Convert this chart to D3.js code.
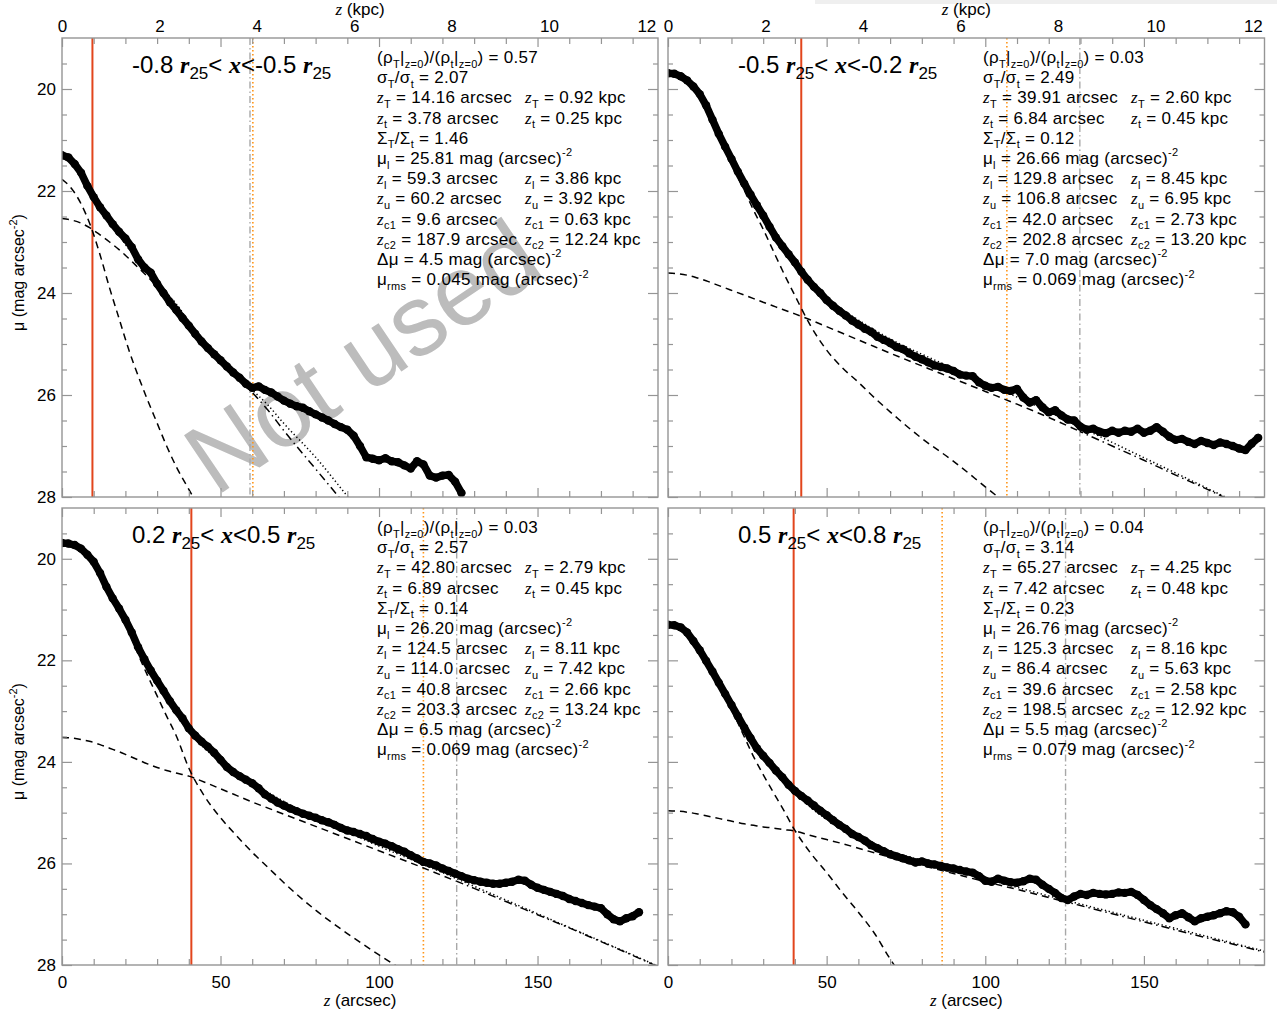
<!DOCTYPE html>
<html>
<head>
<meta charset="utf-8">
<script src="https://cdn.jsdelivr.net/npm/d3@7"></script>
<style>
  body { margin: 0; background: #fff; }
  svg text { font-family: "Liberation Sans", Arial, Helvetica, sans-serif; white-space: pre; }
</style>
</head>
<body>
<svg id="chart" width="1277" height="1013"></svg>
<script>
// ---------------------------------------------------------------------------
// Vertical surface-brightness profiles of four radial bins, with two-disc fits
// ---------------------------------------------------------------------------

const kpcPerArcsec = 0.0651;      // z (kpc) = z (arcsec) * kpcPerArcsec
const zMax = 188;                  // arcsec shown on the horizontal axis
const muTop = 19, muBottom = 28;   // mag arcsec^-2 (inverted axis)

// radial bin limits in units of r25
const binLow  = ["-0.8", "-0.5", "0.2", "0.5"];
const binHigh = ["-0.5", "-0.2", "0.5", "0.8"];

// fit parameters printed in each panel
const rhoRatio   = ["0.57", "0.03", "0.03", "0.04"];
const sigmaRatio = ["2.07", "2.49", "2.57", "3.14"];
const zThickArc  = ["14.16", "39.91", "42.80", "65.27"];
const zThickKpc  = ["0.92", "2.60", "2.79", "4.25"];
const zThinArc   = ["3.78", "6.84", "6.89", "7.42"];
const zThinKpc   = ["0.25", "0.45", "0.45", "0.48"];
const SigmaRatio = ["1.46", "0.12", "0.14", "0.23"];
const muL        = ["25.81", "26.66", "26.20", "26.76"];
const zL         = [59.3, 129.8, 124.5, 125.3];
const zLKpc      = ["3.86", "8.45", "8.11", "8.16"];
const zU         = [60.2, 106.8, 114.0, 86.4];
const zUKpc      = ["3.92", "6.95", "7.42", "5.63"];
const zC1        = [9.6, 42.0, 40.8, 39.6];
const zC1Kpc     = ["0.63", "2.73", "2.66", "2.58"];
const zC2        = [187.9, 202.8, 203.3, 198.5];
const zC2Kpc     = ["12.24", "13.20", "13.24", "12.92"];
const deltaMu    = ["4.5", "7.0", "6.5", "5.5"];
const muRms      = ["0.045", "0.069", "0.069", "0.079"];

// axis ticks
const zTicksMajor  = [0, 50, 100, 150];
const zTicksMinor  = [10, 20, 30, 40, 60, 70, 80, 90, 110, 120, 130, 140, 160, 170, 180];
const kpcLabels    = [0, 2, 4, 6, 8, 10, 12];
const muTicksMajor = [20, 22, 24, 26, 28];
const muTicksMinor = [19.5, 20.5, 21, 21.5, 22.5, 23, 23.5, 24.5, 25, 25.5, 26.5, 27, 27.5];

// observed profiles, one value every dataStep arcsec starting at z = 0
const dataStep = 2;
const muObsTL = [21.30,21.34,21.47,21.64,21.90,22.12,22.32,22.48,22.65,22.80,22.93,23.10,23.34,23.50,23.60,23.82,
  24.00,24.18,24.33,24.49,24.64,24.80,24.95,25.08,25.20,25.32,25.44,25.56,25.66,25.78,25.86,25.83,25.90,25.95,
  26.03,26.11,26.17,26.22,26.25,26.32,26.38,26.44,26.50,26.57,26.63,26.68,26.80,27.00,27.22,27.25,27.28,27.24,
  27.30,27.32,27.38,27.44,27.30,27.36,27.58,27.62,27.58,27.57,27.70,27.92];
const muObsTR = [19.69,19.70,19.75,19.83,19.95,20.10,20.32,20.60,20.88,21.13,21.37,21.62,21.85,22.07,22.28,22.48,
  22.70,22.91,23.08,23.24,23.40,23.58,23.74,23.88,24.00,24.14,24.25,24.35,24.44,24.54,24.62,24.70,24.76,24.86,
  24.92,24.98,25.06,25.10,25.18,25.25,25.30,25.36,25.42,25.45,25.48,25.53,25.60,25.62,25.63,25.75,25.82,25.86,
  25.84,25.90,25.92,25.88,26.05,26.15,26.10,26.24,26.34,26.30,26.40,26.48,26.50,26.62,26.68,26.66,26.72,26.75,
  26.70,26.74,26.70,26.72,26.66,26.74,26.70,26.63,26.72,26.82,26.88,26.86,26.92,26.96,26.90,26.94,26.98,26.93,
  26.96,27.00,27.05,27.08,26.95,26.84];
const muObsBL = [19.69,19.70,19.73,19.80,19.92,20.06,20.28,20.55,20.78,20.98,21.20,21.45,21.74,21.98,22.20,22.40,
  22.60,22.80,22.98,23.14,23.34,23.48,23.60,23.70,23.82,23.96,24.10,24.20,24.28,24.35,24.42,24.52,24.64,24.72,
  24.80,24.86,24.92,24.97,25.02,25.06,25.10,25.15,25.19,25.24,25.30,25.35,25.38,25.42,25.46,25.52,25.57,25.61,
  25.66,25.72,25.77,25.84,25.90,25.97,26.00,26.04,26.10,26.15,26.20,26.25,26.30,26.33,26.36,26.38,26.40,26.40,
  26.38,26.36,26.32,26.34,26.42,26.48,26.52,26.56,26.60,26.64,26.70,26.74,26.78,26.82,26.85,26.88,27.00,27.10,
  27.14,27.08,27.04,26.96];
const muObsBR = [21.30,21.31,21.35,21.45,21.62,21.80,22.01,22.22,22.44,22.66,22.88,23.10,23.32,23.53,23.73,23.88,
  24.02,24.17,24.30,24.45,24.57,24.67,24.76,24.86,24.96,25.05,25.15,25.24,25.32,25.42,25.48,25.55,25.64,25.70,
  25.76,25.82,25.86,25.90,25.94,25.98,25.96,26.00,26.02,26.05,26.08,26.10,26.13,26.16,26.18,26.25,26.34,26.36,
  26.30,26.34,26.37,26.38,26.35,26.30,26.32,26.42,26.50,26.58,26.68,26.72,26.65,26.60,26.62,26.58,26.60,26.61,
  26.60,26.57,26.58,26.56,26.62,26.72,26.82,26.90,26.98,27.08,27.02,26.98,27.06,27.14,27.08,27.05,27.02,26.98,
  26.94,26.96,27.05,27.20];

// model curves sampled at fitZ (arcsec); null where the curve has left the frame
const fitZ = [0,3,6,9,12,15,18,21,24,27,30,33,36,40,45,50,55,60,65,70,80,90,100,110,120,130,140,150,160,170,180,190];

const thinTL  = [21.77,21.95,22.25,22.68,23.25,23.90,24.50,25.10,25.62,26.10,26.55,27.00,27.40,27.85,28.40,
  null,null,null,null,null,null,null,null,null,null,null,null,null,null,null,null,null];
const thickTL = [22.54,22.57,22.63,22.73,22.86,23.00,23.15,23.32,23.50,23.68,23.87,24.06,24.26,24.62,24.98,25.32,
  25.64,25.95,26.30,26.70,27.45,28.20,null,null,null,null,null,null,null,null,null,null];
const totalTL = [21.34,21.46,21.67,21.95,22.29,22.61,22.87,23.13,23.35,23.57,23.79,24.00,24.21,24.56,24.93,25.28,
  25.60,25.90,26.20,26.56,27.22,27.98,28.70,null,null,null,null,null,null,null,null,null];

const thinTR  = [19.72,19.76,19.86,20.05,20.36,20.80,21.20,21.60,21.98,22.38,22.75,23.15,23.55,24.05,24.65,25.12,
  25.47,25.75,26.05,26.33,26.85,27.30,27.80,28.30,null,null,null,null,null,null,null,null];
const thickTR = [23.61,23.62,23.65,23.70,23.76,23.83,23.90,23.97,24.04,24.11,24.18,24.25,24.32,24.41,24.53,24.66,
  24.79,24.92,25.05,25.18,25.43,25.68,25.93,26.18,26.44,26.72,27.00,27.28,27.57,27.85,28.15,null];
const totalTR = [19.69,19.73,19.83,20.02,20.32,20.75,21.15,21.52,21.84,22.19,22.49,22.81,23.12,23.45,23.80,24.10,
  24.33,24.53,24.72,24.90,25.20,25.48,25.76,26.04,26.33,26.63,26.93,27.23,27.53,27.83,28.13,null];

const thinBL  = [19.72,19.75,19.83,20.03,20.32,20.72,21.06,21.42,21.88,22.30,22.70,23.10,23.48,24.12,24.68,25.10,
  25.45,25.78,26.08,26.38,26.92,27.38,27.80,28.20,null,null,null,null,null,null,null,null];
const thickBL = [23.52,23.53,23.56,23.60,23.66,23.73,23.80,23.88,23.96,24.04,24.11,24.17,24.22,24.28,24.40,24.53,
  24.66,24.79,24.91,25.03,25.27,25.51,25.75,25.99,26.24,26.49,26.75,27.01,27.27,27.54,27.81,28.09];
const totalBL = [19.69,19.72,19.80,19.99,20.28,20.66,20.98,21.32,21.73,22.10,22.44,22.76,23.05,23.42,23.73,24.00,
  24.22,24.42,24.60,24.78,25.10,25.38,25.66,25.92,26.18,26.45,26.72,26.99,27.26,27.53,27.80,28.08];

const thinBR  = [21.34,21.38,21.50,21.76,22.06,22.40,22.74,23.10,23.50,23.90,24.25,24.58,24.90,25.35,25.80,26.18,
  26.58,26.96,27.37,27.88,28.70,null,null,null,null,null,null,null,null,null,null,null];
const thickBR = [24.96,24.97,24.99,25.02,25.06,25.10,25.14,25.18,25.22,25.25,25.28,25.30,25.33,25.36,25.45,25.53,
  25.61,25.70,25.79,25.88,26.04,26.20,26.36,26.51,26.67,26.83,26.99,27.15,27.31,27.47,27.62,27.78];
const totalBR = [21.30,21.34,21.46,21.71,22.01,22.34,22.67,22.97,23.30,23.62,23.89,24.13,24.34,24.60,24.90,25.13,
  25.32,25.48,25.62,25.75,25.94,26.12,26.30,26.47,26.64,26.80,26.96,27.12,27.28,27.44,27.60,27.76];

const observed = [muObsTL, muObsTR, muObsBL, muObsBR];
const thinFits  = [thinTL, thinTR, thinBL, thinBR];
const thickFits = [thickTL, thickTR, thickBL, thickBR];
const totalFits = [totalTL, totalTR, totalBL, totalBR];

// ---------------------------------------------------------------------------
// layout and styles
// ---------------------------------------------------------------------------
const frames = [
  { x0: 62,  x1: 658,    y0: 38,  y1: 497, left: true,  top: true  },
  { x0: 668, x1: 1264.5, y0: 38,  y1: 497, left: false, top: true  },
  { x0: 62,  x1: 658,    y0: 508, y1: 965, left: true,  top: false },
  { x0: 668, x1: 1264.5, y0: 508, y1: 965, left: false, top: false }
];
const sans  = '"Liberation Sans", Arial, Helvetica, sans-serif';
const serif = '"Liberation Serif", "Times New Roman", serif';
const frameColor = "#959595";
const redColor = "#e2451c";
const orangeColor = "#ff9518";
const greyColor = "#a8a8a8";
const textSize = 17;

const svg = d3.select("#chart");
svg.append("rect").attr("width", 1277).attr("height", 1013).attr("fill", "#fff");
svg.append("rect").attr("x", 815).attr("y", 0).attr("width", 462).attr("height", 4).attr("fill", "#efefef");
const defs = svg.append("defs");

// Writes a string with _{sub}, ^{sup} and $italic$ markup into a <text> node.
function rich(text, str, size) {
  const small = Math.round(size * 0.66);
  const parts = str.split(/(_\{[^}]*\}|\^\{[^}]*\}|\$[^$]+\$)/).filter(s => s.length);
  let cur = 0;
  parts.forEach(p => {
    let txt = p, off = 0, fs = size, italic = false;
    if (p.startsWith("_{")) { txt = p.slice(2, -1); off = size * 0.27; fs = small; }
    else if (p.startsWith("^{")) { txt = p.slice(2, -1); off = -size * 0.45; fs = small; }
    else if (p.startsWith("$")) { txt = p.slice(1, -1); italic = true; }
    const t = text.append("tspan").text(txt).attr("font-size", fs).attr("dy", off - cur);
    if (italic) t.attr("font-family", serif).attr("font-style", "italic");
    cur = off;
  });
}

frames.forEach((F, i) => {
  const x  = d3.scaleLinear().domain([0, zMax]).range([F.x0, F.x1]);
  const xk = d3.scaleLinear().domain([0, zMax * kpcPerArcsec]).range([F.x0, F.x1]);
  const y  = d3.scaleLinear().domain([muTop, muBottom]).range([F.y0, F.y1]);
  const W = F.x1 - F.x0, H = F.y1 - F.y0;

  defs.append("clipPath").attr("id", "frame" + i).append("rect")
    .attr("x", F.x0).attr("y", F.y0).attr("width", W).attr("height", H);
  defs.append("clipPath").attr("id", "inner" + i).append("rect")
    .attr("x", F.x0).attr("y", F.y0).attr("width", x(zL[i]) - F.x0).attr("height", H);
  defs.append("clipPath").attr("id", "outer" + i).append("rect")
    .attr("x", x(zL[i])).attr("y", F.y0).attr("width", F.x1 - x(zL[i])).attr("height", H);

  const g = svg.append("g");
  const plot = g.append("g").attr("clip-path", `url(#frame${i})`);

  // the first bin is stamped as not used (behind the curves)
  if (i === 0) {
    plot.append("text").attr("transform", `translate(362,356) rotate(-34)`)
      .attr("text-anchor", "middle").attr("dominant-baseline", "central")
      .attr("font-size", 100).attr("fill", "#bcbcbc")
      .text("Not used");
  }

  // characteristic heights: z_c1 (red), z_u (orange dotted), z_l (grey dash-dot)
  const vline = (z, color, dash, w) => plot.append("line")
    .attr("x1", x(z)).attr("x2", x(z)).attr("y1", F.y0).attr("y2", F.y1)
    .attr("stroke", color).attr("stroke-width", w).attr("stroke-dasharray", dash);
  vline(zL[i], greyColor, "7,3,1.5,3", 1.4);
  vline(zU[i], orangeColor, "1.6,2.4", 1.6);
  vline(zC1[i], redColor, null, 2);

  // model components
  const pairs = arr => fitZ.map((z, k) => [z, arr[k]]);
  const line = d3.line().defined(d => d[1] != null)
    .x(d => x(d[0])).y(d => y(d[1])).curve(d3.curveMonotoneX);
  const curve = (arr, dash, clip) => plot.append("path")
    .attr("d", line(pairs(arr))).attr("fill", "none")
    .attr("stroke", "#000").attr("stroke-width", 1.5)
    .attr("stroke-dasharray", dash)
    .attr("clip-path", clip ? `url(#${clip})` : null);
  curve(thinFits[i], "7,5", null);
  curve(thickFits[i], "7,5", "inner" + i);
  curve(thickFits[i], "8,4,1.5,4", "outer" + i);
  curve(totalFits[i], "1.3,2.6", null);

  // observed profile
  const obs = observed[i];
  const obsLine = d3.line().x((d, k) => x(k * dataStep)).y(d => y(d));
  plot.append("path").attr("d", obsLine(obs)).attr("fill", "none")
    .attr("stroke", "#000").attr("stroke-width", 7.5)
    .attr("stroke-linejoin", "round").attr("stroke-linecap", "round");
  plot.selectAll("circle.obs").data(obs).join("circle").attr("class", "obs")
    .attr("cx", (d, k) => x(k * dataStep)).attr("cy", d => y(d)).attr("r", 4.2).attr("fill", "#000");

  // axes (ticks point inwards)
  const axis = (gen, tx, ty, labels) => {
    const a = g.append("g").attr("transform", `translate(${tx},${ty})`).call(gen);
    a.select(".domain").remove();
    a.selectAll("line").attr("stroke", frameColor).attr("stroke-width", 1.2);
    a.attr("font-family", sans).attr("font-size", 17);
    a.selectAll("text").attr("fill", "#000");
    if (!labels) a.selectAll("text").remove();
  };
  axis(d3.axisBottom(x).tickValues(zTicksMajor).tickSize(-9).tickSizeOuter(0).tickPadding(11), 0, F.y1, !F.top);
  axis(d3.axisBottom(x).tickValues(zTicksMinor).tickSize(-6).tickSizeOuter(0).tickFormat(""), 0, F.y1, false);
  axis(d3.axisTop(x).tickValues(zTicksMajor).tickSize(-9).tickSizeOuter(0).tickFormat(""), 0, F.y0, false);
  axis(d3.axisTop(x).tickValues(zTicksMinor).tickSize(-6).tickSizeOuter(0).tickFormat(""), 0, F.y0, false);
  if (F.top) {
    axis(d3.axisTop(xk).tickValues(kpcLabels).tickSize(0).tickSizeOuter(0).tickPadding(6.5), 0, F.y0, true);
  }
  axis(d3.axisLeft(y).tickValues(muTicksMajor).tickSize(-10).tickSizeOuter(0).tickPadding(6), F.x0, 0, F.left);
  axis(d3.axisLeft(y).tickValues(muTicksMinor).tickSize(-5).tickSizeOuter(0).tickFormat(""), F.x0, 0, false);
  axis(d3.axisRight(y).tickValues(muTicksMajor).tickSize(-10).tickSizeOuter(0), F.x1, 0, false);
  axis(d3.axisRight(y).tickValues(muTicksMinor).tickSize(-5).tickSizeOuter(0).tickFormat(""), F.x1, 0, false);

  g.append("rect").attr("x", F.x0).attr("y", F.y0).attr("width", W).attr("height", H)
    .attr("fill", "none").attr("stroke", frameColor).attr("stroke-width", 1.4);

  // axis titles
  const cx = (F.x0 + F.x1) / 2;
  if (F.top) {
    const t = g.append("text").attr("x", cx).attr("y", 15).attr("text-anchor", "middle").attr("font-size", 17);
    rich(t, "$z$ (kpc)", 17);
  } else {
    const t = g.append("text").attr("x", cx).attr("y", 1006).attr("text-anchor", "middle").attr("font-size", 17);
    rich(t, "$z$ (arcsec)", 17);
  }
  if (F.left) {
    const t = g.append("text").attr("transform", `translate(24,${(F.y0 + F.y1) / 2 + 5}) rotate(-90)`)
      .attr("text-anchor", "middle").attr("font-size", 16);
    rich(t, "μ (mag arcsec^{-2})", 16);
  }

  // bin title
  const tt = g.append("text").attr("x", F.x0 + 70).attr("y", F.y0 + 35).attr("font-size", 24);
  const seg = (s, opt) => {
    const sp = tt.append("tspan").text(s);
    if (opt === "r") sp.attr("font-family", serif).attr("font-style", "italic").attr("font-weight", "bold");
    if (opt === "sub") sp.attr("font-size", 17).attr("dy", 6);
    if (opt === "up") sp.attr("dy", -6);
    return sp;
  };
  seg(binLow[i] + " ");
  seg("r", "r"); seg("25", "sub"); seg("< ", "up");
  seg("x", "r"); seg("<" + binHigh[i] + " ");
  seg("r", "r"); seg("25", "sub");

  // fit parameters
  const col1 = F.x0 + 315, col2 = F.x0 + 463;
  const base = F.y0 + 25, step = 20.2;
  const rows = [
    [`(ρ_{T}|_{z=0})/(ρ_{t}|_{z=0}) = ${rhoRatio[i]}`],
    [`σ_{T}/σ_{t} = ${sigmaRatio[i]}`],
    [`$z$_{T} = ${zThickArc[i]} arcsec`, `$z$_{T} = ${zThickKpc[i]} kpc`],
    [`$z$_{t} = ${zThinArc[i]} arcsec`, `$z$_{t} = ${zThinKpc[i]} kpc`],
    [`Σ_{T}/Σ_{t} = ${SigmaRatio[i]}`],
    [`μ_{l} = ${muL[i]} mag (arcsec)^{-2}`],
    [`$z$_{l} = ${zL[i].toFixed(1)} arcsec`, `$z$_{l} = ${zLKpc[i]} kpc`],
    [`$z$_{u} = ${zU[i].toFixed(1)} arcsec`, `$z$_{u} = ${zUKpc[i]} kpc`],
    [`$z$_{c1} = ${zC1[i].toFixed(1)} arcsec`, `$z$_{c1} = ${zC1Kpc[i]} kpc`],
    [`$z$_{c2} = ${zC2[i].toFixed(1)} arcsec`, `$z$_{c2} = ${zC2Kpc[i]} kpc`],
    [`Δμ = ${deltaMu[i]} mag (arcsec)^{-2}`],
    [`μ_{rms} = ${muRms[i]} mag (arcsec)^{-2}`]
  ];
  rows.forEach((r, k) => {
    r.forEach((s, c) => {
      const t = g.append("text").attr("x", c ? col2 : col1).attr("y", base + k * step)
        .attr("font-size", textSize).attr("letter-spacing", 0.3);
      rich(t, s, textSize);
    });
  });
});
</script>
</body>
</html>
